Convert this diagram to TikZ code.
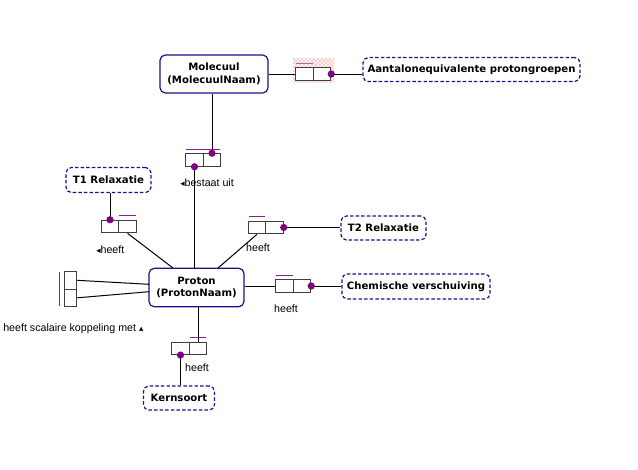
\documentclass[tikz,border=0pt]{standalone}
\usepackage{fontspec}
\setmainfont{Liberation Sans}
\newfontfamily\bfam{DejaVu Sans}
\newfontfamily\symfont{DejaVu Sans}
\usetikzlibrary{patterns}
\definecolor{navy}{HTML}{14148A}
\definecolor{dotc}{HTML}{800080}
\definecolor{barc}{HTML}{85208A}
\definecolor{barl}{HTML}{A070A0}
\begin{document}
\begin{tikzpicture}[x=0.75pt,y=-0.75pt,
 ent/.style={draw=navy, line width=0.9pt, rounded corners=4pt, fill=white, font=\bfam\bfseries\fontsize{7.6}{9.6}\selectfont, align=center, inner sep=0pt},
 val/.style={ent, dash pattern=on 2.6pt off 1.6pt},
 roleh/.style={draw=black!75, line width=0.75pt, fill=white, minimum width=13.1pt, minimum height=9.4pt, inner sep=0pt},
 rolev/.style={draw=black!75, line width=0.75pt, fill=white, minimum width=9.4pt, minimum height=13.1pt, inner sep=0pt},
 conn/.style={line width=0.75pt, black},
 bar/.style={draw=barc, line width=1pt},
 lbl/.style={font=\fontsize{8}{9.6}\selectfont, inner sep=0pt}
]
\useasboundingbox (0,0) rectangle (638,469);
% hatched background of the Molecuul predicate
\fill[red!4] (293,58) rectangle (334,82);
\fill[pattern=crosshatch, pattern color=red!22] (293,58) rectangle (334,82);

% entity and value types
\node[ent, minimum width=81pt, minimum height=28.5pt] (mol) at (214,74) {Molecuul\\(MolecuulNaam)};
\node[ent, minimum width=71.25pt, minimum height=28.9pt] (prot) at (196.5,287.5) {Proton\\(ProtonNaam)};
\node[val, minimum width=162.75pt, minimum height=18pt] (aant) at (471.5,69.5) {Aantalonequivalente protongroepen};
\node[val, minimum width=63.75pt, minimum height=18.75pt] (t1) at (108.5,180) {T1 Relaxatie};
\node[val, minimum width=63.75pt, minimum height=18pt] (t2) at (383.5,228) {T2 Relaxatie};
\node[val, minimum width=111pt, minimum height=18.75pt] (chem) at (416,286.5) {Chemische verschuiving};
\node[val, minimum width=53.25pt, minimum height=18pt] (kern) at (179,398) {Kernsoort};

% predicates (role boxes)
\node[roleh] (p1a) at (304.5,74) {};
\node[roleh] (p1b) at (322,74) {};
\node[roleh] (p2a) at (194.5,160) {};
\node[roleh] (p2b) at (212,160) {};
\node[roleh] (p3a) at (110,226.5) {};
\node[roleh] (p3b) at (127.5,226.5) {};
\node[roleh] (p4a) at (257,227.5) {};
\node[roleh] (p4b) at (274.5,227.5) {};
\node[roleh] (p5a) at (284.5,286) {};
\node[roleh] (p5b) at (302,286) {};
\node[roleh] (p6a) at (180.5,348.3) {};
\node[roleh] (p6b) at (198,348.3) {};
\node[rolev] (p7a) at (70.5,280.3) {};
\node[rolev] (p7b) at (70.5,297.8) {};

% attachment points on Proton
\coordinate (pt1) at (173,268);
\coordinate (pt2) at (218,268);
\coordinate (pl1) at (149,284.3);
\coordinate (pl2) at (149,291.7);

% connectors
\draw[conn] (mol.east |- p1a.west) -- (p1a.west);
\draw[conn] (p1b.east) -- (aant.west |- p1b.east);
\draw[conn] (p2b.north |- mol.south) -- (p2b.north);
\draw[conn] (p2a.south) -- (p2a.south |- prot.north);
\draw[conn] (p3a.north |- t1.south) -- (p3a.north);
\draw[conn] (p3b.south) -- (pt1);
\draw[conn] (p4a.south) -- (pt2);
\draw[conn] (p4b.east) -- (t2.west |- p4b.east);
\draw[conn] (prot.east |- p5a.west) -- (p5a.west);
\draw[conn] (p5b.east) -- (chem.west |- p5b.east);
\draw[conn] (p6b.north |- prot.south) -- (p6b.north);
\draw[conn] (p6a.south) -- (p6a.south |- kern.north);
\draw[conn] (p7a.east) -- (pl1);
\draw[conn] (p7b.east) -- (pl2);

% uniqueness bars
\draw[draw=barl, line width=1pt] ([shift={(1,-4)}]p1a.north west) -- ([shift={(-1,-4)}]p1a.north east);
\draw[bar] ([shift={(1,-4)}]p2a.north west) -- ([shift={(-1,-4)}]p2b.north east);
\draw[bar] ([shift={(1,-4)}]p3b.north west) -- ([shift={(-1,-4)}]p3b.north east);
\draw[bar] ([shift={(1,-4)}]p4a.north west) -- ([shift={(-1,-4)}]p4a.north east);
\draw[bar] ([shift={(1,-4)}]p5a.north west) -- ([shift={(-1,-4)}]p5a.north east);
\draw[bar] ([shift={(1,-4)}]p6b.north west) -- ([shift={(-1,-4)}]p6b.north east);
\draw[bar] ([shift={(-4,1)}]p7a.north west) -- ([shift={(-4,-1)}]p7b.south west);

% mandatory dots
\fill[dotc] (p1b.east) circle[radius=2.7pt];
\fill[dotc] (p2b.north) circle[radius=2.7pt];
\fill[dotc] (p2a.south) circle[radius=2.7pt];
\fill[dotc] (p3a.north) circle[radius=2.7pt];
\fill[dotc] (p4b.east) circle[radius=2.7pt];
\fill[dotc] (p5b.east) circle[radius=2.7pt];
\fill[dotc] (p6a.south) circle[radius=2.7pt];

% predicate readings
\node[lbl, anchor=west] (l2) at (180,183) {{\symfont\fontsize{6.5}{7}\selectfont ◂}bestaat uit};
\node[lbl, anchor=west] (l3) at (96,250) {{\symfont\fontsize{6.5}{7}\selectfont ◂}heeft};
\node[lbl] (l4) at (258,248) {heeft};
\node[lbl] (l5) at (286,308.5) {heeft};
\node[lbl, anchor=west] (l7) at (3,329) {heeft scalaire koppeling met {\symfont\fontsize{6.5}{7}\selectfont ▴}};
\node[lbl] (l6) at (197,367.5) {heeft};
\end{tikzpicture}
\end{document}
